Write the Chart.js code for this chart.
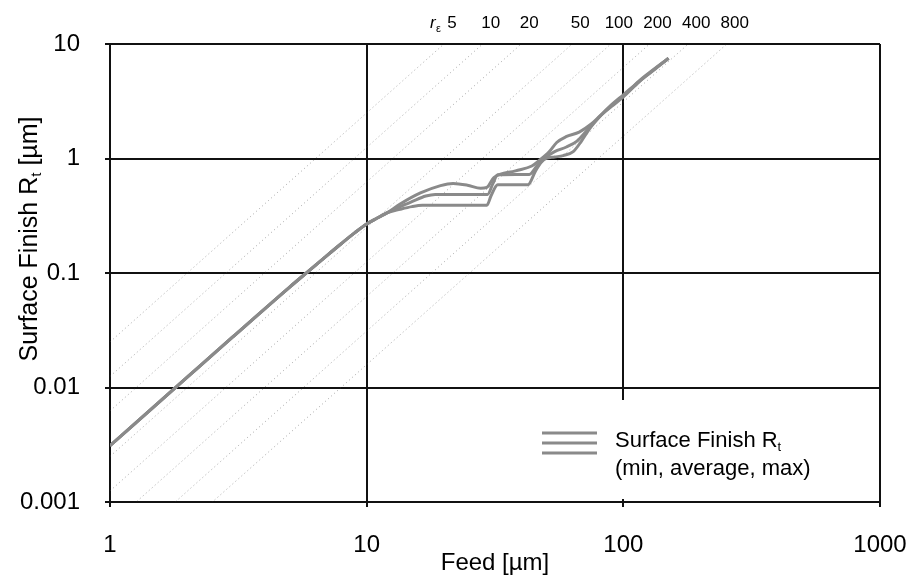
<!DOCTYPE html>
<html>
<head>
<meta charset="utf-8">
<title>Surface Finish Rt vs Feed</title>
<script src="https://cdn.jsdelivr.net/npm/chart.js@4.4.1/dist/chart.umd.min.js"></script>
<style>
  html, body { margin: 0; padding: 0; background: #fff; }
  #wrap { width: 917px; height: 580px; position: relative; }
</style>
</head>
<body>
<div id="wrap"><canvas id="chartRt"></canvas></div>
<script>
const FONT = '"Liberation Sans", Arial, sans-serif';

// decades on both log axes
const feedTicks = [1, 10, 100, 1000];
const rtTicks = [0.001, 0.01, 0.1, 1, 10];

// part of the curve shared by min / average / max
const sharedFeed = [1, 2, 3, 5, 6, 7, 8, 9, 10, 11, 12];
const sharedRt = [0.0031, 0.0123, 0.0275, 0.075, 0.106, 0.142, 0.182, 0.225, 0.268, 0.302, 0.335];

// where the three curves split
const minFeed = [13.5, 15, 16.5, 29.4, 30.5, 32.4, 42.5, 45.5, 48, 50, 54, 58.3, 63.8, 68.4, 73.6, 82, 90, 100, 115, 130, 150];
const minRt = [0.36, 0.38, 0.39, 0.39, 0.47, 0.59, 0.59, 0.78, 0.93, 1.0, 1.03, 1.06, 1.15, 1.4, 1.8, 2.4, 2.95, 3.6, 4.7, 5.8, 7.5];

const avgFeed = [13.5, 15, 17, 18.5, 29.6, 31, 32.4, 43, 46, 49, 54, 60, 66, 72, 82, 90, 100, 115, 130, 150];
const avgRt = [0.38, 0.42, 0.47, 0.486, 0.486, 0.6, 0.72, 0.726, 0.86, 1.0, 1.15, 1.26, 1.42, 1.75, 2.4, 2.9, 3.5, 4.75, 5.9, 7.5];

const maxFeed = [13.5, 16.2, 19.4, 21.7, 24.7, 27.8, 29.4, 31.3, 38, 44, 47, 51.5, 55, 59.8, 67.3, 75, 82, 90, 100, 115, 130, 150];
const maxRt = [0.4, 0.5, 0.58, 0.606, 0.585, 0.55, 0.56, 0.68, 0.78, 0.86, 0.96, 1.15, 1.38, 1.55, 1.7, 2.0, 2.4, 2.85, 3.45, 4.65, 5.85, 7.5];

// corner radius guide lines: label, feed where Rt = 10, Rt at feed = 1
const radiusLabels = ['5', '10', '20', '50', '100', '200', '400', '800'];
const radiusFeedTop = [20, 28.3, 40, 63.2, 89.4, 126.5, 179, 253];
const radiusRtLeft = [0.025, 0.0125, 0.00625, 0.0025, 0.00125, 0.000625, 0.00031, 0.00016];

function toPoints(xs, ys) {
    return xs.map((v, i) => ({ x: v, y: ys[i] }));
}

const curveColor = '#8a8a8a';

function curve(label, feed, rt) {
    return {
        label: label,
        data: toPoints(sharedFeed.concat(feed), sharedRt.concat(rt)),
        borderColor: curveColor,
        borderWidth: 3,
        pointRadius: 0,
        cubicInterpolationMode: 'monotone',
        order: 0
    };
}

const guideSets = radiusLabels.map((r, i) => ({
    label: 'r ' + r,
    data: [{ x: 1, y: radiusRtLeft[i] }, { x: radiusFeedTop[i], y: 10 }],
    borderColor: 'rgba(80, 80, 80, 0.5)',
    borderWidth: 1,
    borderDash: [1, 3],
    pointRadius: 0,
    order: 1
}));

// text that Chart.js can't place itself: radius labels, y title with subscript, legend box
const textPlugin = {
    id: 'textPlugin',
    afterDraw(chart) {
        const { ctx, chartArea: a, scales } = chart;
        const x = scales.x;
        ctx.save();
        ctx.fillStyle = '#000';

        // r_e labels above the plot
        ctx.font = '17px ' + FONT;
        ctx.textAlign = 'center';
        ctx.textBaseline = 'alphabetic';
        const labelY = a.top - 16;
        radiusLabels.forEach((t, i) => {
            ctx.fillText(t, x.getPixelForValue(radiusFeedTop[i]) + 8, labelY);
        });
        const firstX = x.getPixelForValue(radiusFeedTop[0]) + 8;
        ctx.textAlign = 'left';
        ctx.font = 'italic 17px ' + FONT;
        ctx.fillText('r', firstX - 22, labelY);
        ctx.font = '11px ' + FONT;
        ctx.fillText('\u03b5', firstX - 16, labelY + 4);

        // y axis title, rotated, with subscript t
        ctx.save();
        ctx.translate(a.left - 80, a.top + 195);
        ctx.rotate(-Math.PI / 2);
        ctx.textBaseline = 'middle';
        const big = '25px ' + FONT, small = '15px ' + FONT;
        const p1 = 'Surface Finish R', p2 = 't', p3 = ' [\u00b5m]';
        ctx.font = big;
        const w1 = ctx.measureText(p1).width, w3 = ctx.measureText(p3).width;
        ctx.font = small;
        const w2 = ctx.measureText(p2).width;
        const tx = -(w1 + w2 + w3) / 2;
        ctx.font = big;
        ctx.fillText(p1, tx, 0);
        ctx.font = small;
        ctx.fillText(p2, tx + w1, 7);
        ctx.font = big;
        ctx.fillText(p3, tx + w1 + w2, 0);
        ctx.restore();

        // legend box in the lower right corner
        const bx = a.right - 352, by = a.bottom - 102;
        ctx.fillStyle = '#fff';
        ctx.fillRect(bx, by, 349, 99);
        ctx.strokeStyle = curveColor;
        ctx.lineWidth = 3;
        [33, 43, 53].forEach(dy => {
            ctx.beginPath();
            ctx.moveTo(bx + 14, by + dy);
            ctx.lineTo(bx + 69, by + dy);
            ctx.stroke();
        });
        ctx.fillStyle = '#000';
        ctx.textBaseline = 'alphabetic';
        ctx.font = '22px ' + FONT;
        const lx = bx + 87;
        ctx.fillText('Surface Finish R', lx, by + 47);
        const lw = ctx.measureText('Surface Finish R').width;
        ctx.font = '13px ' + FONT;
        ctx.fillText('t', lx + lw, by + 51);
        ctx.font = '22px ' + FONT;
        ctx.fillText('(min, average, max)', lx, by + 75);

        ctx.restore();
    }
};

const gridStyle = {
    color: '#111',
    lineWidth: 2,
    drawTicks: true,
    tickLength: 5
};

new Chart(document.getElementById('chartRt').getContext('2d'), {
    type: 'line',
    data: {
        datasets: [
            curve('min', minFeed, minRt),
            curve('average', avgFeed, avgRt),
            curve('max', maxFeed, maxRt)
        ].concat(guideSets)
    },
    options: {
        responsive: true,
        maintainAspectRatio: false,
        animation: false,
        layout: { padding: { top: 44, right: 37, left: 0, bottom: 0 } },
        plugins: {
            legend: { display: false },
            tooltip: { enabled: false }
        },
        scales: {
            x: {
                type: 'logarithmic',
                min: 1,
                max: 1000,
                afterBuildTicks: function(scale) {
                    scale.ticks = feedTicks.map(v => ({ value: v }));
                },
                afterFit: function(scale) {
                    scale.height = 78;
                    // the tick padding pushes the labels down only, not the right edge in
                    scale.paddingLeft = 0;
                    scale.paddingRight = 0;
                },
                ticks: {
                    color: '#000',
                    font: { family: FONT, size: 24 },
                    padding: 24,
                    maxRotation: 0,
                    callback: function(value) { return String(value); }
                },
                grid: gridStyle,
                border: { color: '#111', width: 2 },
                title: {
                    display: true,
                    text: 'Feed [\u00b5m]',
                    color: '#000',
                    font: { family: FONT, size: 24 },
                    padding: { top: 0, bottom: 2 }
                }
            },
            y: {
                type: 'logarithmic',
                min: 0.001,
                max: 10,
                afterBuildTicks: function(scale) {
                    scale.ticks = rtTicks.map(v => ({ value: v }));
                },
                afterFit: function(scale) { scale.width = 110; },
                ticks: {
                    color: '#000',
                    font: { family: FONT, size: 24 },
                    padding: 25,
                    callback: function(value) { return String(value); }
                },
                grid: gridStyle,
                border: { color: '#111', width: 2 }
            }
        }
    },
    plugins: [textPlugin]
});
</script>
</body>
</html>
